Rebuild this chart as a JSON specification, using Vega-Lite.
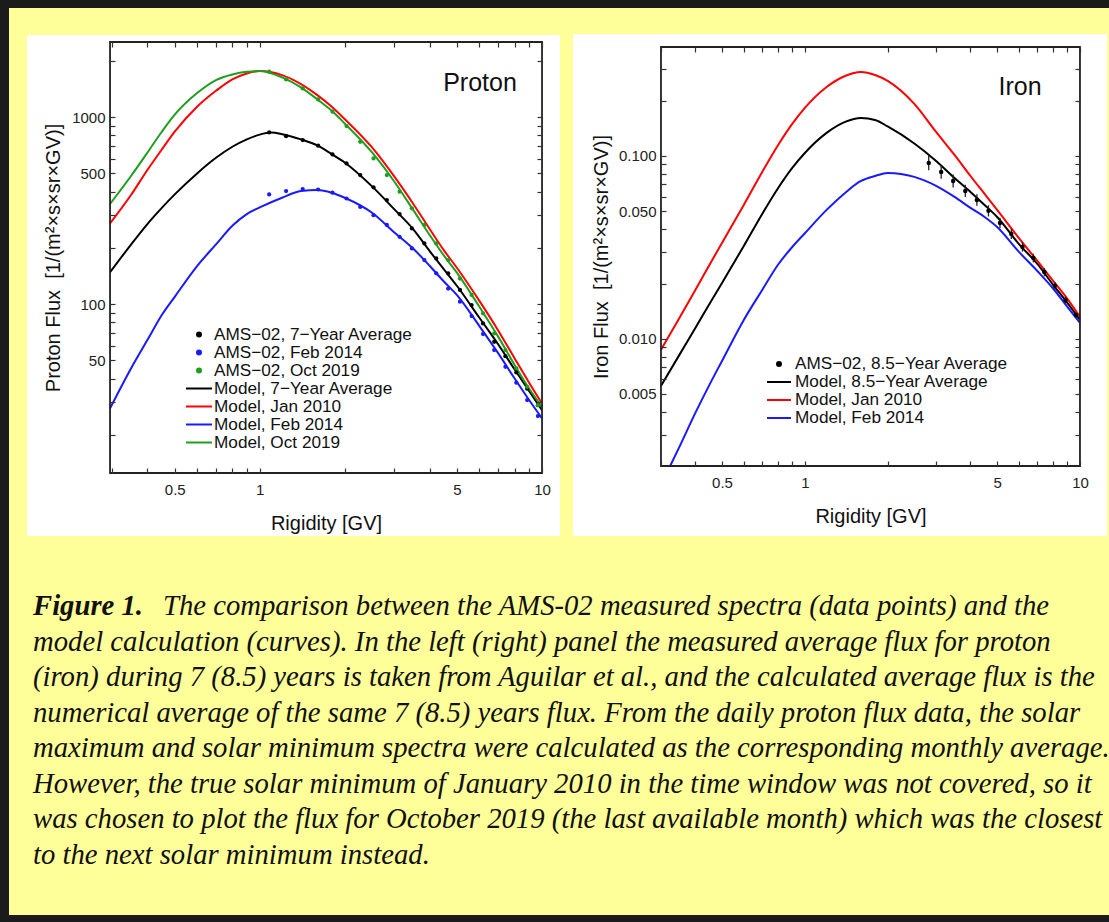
{
  "$schema": "https://vega.github.io/schema/vega-lite/v6.json",
  "background": "#1b1b1b",
  "padding": {"left": 9, "top": 8, "right": 0, "bottom": 7},
  "spacing": 0,
  "datasets": {
    "proton_model": [
      {"series": "Model, 7−Year Average", "R": 0.295, "F": 148},
      {"series": "Model, 7−Year Average", "R": 0.35, "F": 208},
      {"series": "Model, 7−Year Average", "R": 0.4, "F": 268},
      {"series": "Model, 7−Year Average", "R": 0.45, "F": 327},
      {"series": "Model, 7−Year Average", "R": 0.5, "F": 386},
      {"series": "Model, 7−Year Average", "R": 0.6, "F": 500},
      {"series": "Model, 7−Year Average", "R": 0.7, "F": 606},
      {"series": "Model, 7−Year Average", "R": 0.8, "F": 694},
      {"series": "Model, 7−Year Average", "R": 0.9, "F": 760},
      {"series": "Model, 7−Year Average", "R": 1.0, "F": 806},
      {"series": "Model, 7−Year Average", "R": 1.1, "F": 826},
      {"series": "Model, 7−Year Average", "R": 1.2, "F": 810},
      {"series": "Model, 7−Year Average", "R": 1.4, "F": 760},
      {"series": "Model, 7−Year Average", "R": 1.6, "F": 706},
      {"series": "Model, 7−Year Average", "R": 1.8, "F": 634},
      {"series": "Model, 7−Year Average", "R": 2.0, "F": 572},
      {"series": "Model, 7−Year Average", "R": 2.5, "F": 426},
      {"series": "Model, 7−Year Average", "R": 3, "F": 321},
      {"series": "Model, 7−Year Average", "R": 3.5, "F": 251},
      {"series": "Model, 7−Year Average", "R": 4, "F": 192},
      {"series": "Model, 7−Year Average", "R": 4.5, "F": 153},
      {"series": "Model, 7−Year Average", "R": 5, "F": 125},
      {"series": "Model, 7−Year Average", "R": 6, "F": 84.5},
      {"series": "Model, 7−Year Average", "R": 7, "F": 60.8},
      {"series": "Model, 7−Year Average", "R": 8, "F": 44.7},
      {"series": "Model, 7−Year Average", "R": 9, "F": 34.3},
      {"series": "Model, 7−Year Average", "R": 10, "F": 27.1},
      {"series": "Model, Jan 2010", "R": 0.295, "F": 270},
      {"series": "Model, Jan 2010", "R": 0.35, "F": 383},
      {"series": "Model, Jan 2010", "R": 0.4, "F": 521},
      {"series": "Model, Jan 2010", "R": 0.45, "F": 671},
      {"series": "Model, Jan 2010", "R": 0.5, "F": 835},
      {"series": "Model, Jan 2010", "R": 0.6, "F": 1136},
      {"series": "Model, Jan 2010", "R": 0.7, "F": 1382},
      {"series": "Model, Jan 2010", "R": 0.8, "F": 1591},
      {"series": "Model, Jan 2010", "R": 0.9, "F": 1712},
      {"series": "Model, Jan 2010", "R": 1.0, "F": 1762},
      {"series": "Model, Jan 2010", "R": 1.2, "F": 1677},
      {"series": "Model, Jan 2010", "R": 1.4, "F": 1502},
      {"series": "Model, Jan 2010", "R": 1.6, "F": 1311},
      {"series": "Model, Jan 2010", "R": 1.8, "F": 1136},
      {"series": "Model, Jan 2010", "R": 2.0, "F": 976},
      {"series": "Model, Jan 2010", "R": 2.5, "F": 688},
      {"series": "Model, Jan 2010", "R": 3, "F": 480},
      {"series": "Model, Jan 2010", "R": 3.5, "F": 343},
      {"series": "Model, Jan 2010", "R": 4, "F": 252},
      {"series": "Model, Jan 2010", "R": 4.5, "F": 193},
      {"series": "Model, Jan 2010", "R": 5, "F": 156},
      {"series": "Model, Jan 2010", "R": 6, "F": 104},
      {"series": "Model, Jan 2010", "R": 7, "F": 72.1},
      {"series": "Model, Jan 2010", "R": 8, "F": 51.2},
      {"series": "Model, Jan 2010", "R": 9, "F": 38.0},
      {"series": "Model, Jan 2010", "R": 10, "F": 29.4},
      {"series": "Model, Feb 2014", "R": 0.295, "F": 27.7},
      {"series": "Model, Feb 2014", "R": 0.35, "F": 45.3},
      {"series": "Model, Feb 2014", "R": 0.4, "F": 64.2},
      {"series": "Model, Feb 2014", "R": 0.45, "F": 87.4},
      {"series": "Model, Feb 2014", "R": 0.5, "F": 109.4},
      {"series": "Model, Feb 2014", "R": 0.6, "F": 159.7},
      {"series": "Model, Feb 2014", "R": 0.7, "F": 208.5},
      {"series": "Model, Feb 2014", "R": 0.8, "F": 262.4},
      {"series": "Model, Feb 2014", "R": 0.9, "F": 303},
      {"series": "Model, Feb 2014", "R": 1.0, "F": 328.7},
      {"series": "Model, Feb 2014", "R": 1.2, "F": 370.4},
      {"series": "Model, Feb 2014", "R": 1.4, "F": 402},
      {"series": "Model, Feb 2014", "R": 1.6, "F": 407},
      {"series": "Model, Feb 2014", "R": 1.8, "F": 394},
      {"series": "Model, Feb 2014", "R": 2.0, "F": 370.4},
      {"series": "Model, Feb 2014", "R": 2.5, "F": 308},
      {"series": "Model, Feb 2014", "R": 3, "F": 241.6},
      {"series": "Model, Feb 2014", "R": 3.5, "F": 197.7},
      {"series": "Model, Feb 2014", "R": 4, "F": 160.3},
      {"series": "Model, Feb 2014", "R": 4.5, "F": 131.6},
      {"series": "Model, Feb 2014", "R": 5, "F": 111.7},
      {"series": "Model, Feb 2014", "R": 6, "F": 76.3},
      {"series": "Model, Feb 2014", "R": 7, "F": 54.5},
      {"series": "Model, Feb 2014", "R": 8, "F": 40.0},
      {"series": "Model, Feb 2014", "R": 9, "F": 30.7},
      {"series": "Model, Feb 2014", "R": 10, "F": 24.5},
      {"series": "Model, Oct 2019", "R": 0.295, "F": 343},
      {"series": "Model, Oct 2019", "R": 0.35, "F": 484},
      {"series": "Model, Oct 2019", "R": 0.4, "F": 645},
      {"series": "Model, Oct 2019", "R": 0.45, "F": 835},
      {"series": "Model, Oct 2019", "R": 0.5, "F": 1030},
      {"series": "Model, Oct 2019", "R": 0.6, "F": 1344},
      {"series": "Model, Oct 2019", "R": 0.7, "F": 1578},
      {"series": "Model, Oct 2019", "R": 0.8, "F": 1691},
      {"series": "Model, Oct 2019", "R": 0.9, "F": 1747},
      {"series": "Model, Oct 2019", "R": 1.0, "F": 1762},
      {"series": "Model, Oct 2019", "R": 1.2, "F": 1630},
      {"series": "Model, Oct 2019", "R": 1.4, "F": 1442},
      {"series": "Model, Oct 2019", "R": 1.6, "F": 1244},
      {"series": "Model, Oct 2019", "R": 1.8, "F": 1081},
      {"series": "Model, Oct 2019", "R": 2.0, "F": 925},
      {"series": "Model, Oct 2019", "R": 2.5, "F": 647},
      {"series": "Model, Oct 2019", "R": 3, "F": 451},
      {"series": "Model, Oct 2019", "R": 3.5, "F": 318},
      {"series": "Model, Oct 2019", "R": 4, "F": 234},
      {"series": "Model, Oct 2019", "R": 4.5, "F": 181},
      {"series": "Model, Oct 2019", "R": 5, "F": 147},
      {"series": "Model, Oct 2019", "R": 6, "F": 96.8},
      {"series": "Model, Oct 2019", "R": 7, "F": 66.8},
      {"series": "Model, Oct 2019", "R": 8, "F": 47.2},
      {"series": "Model, Oct 2019", "R": 9, "F": 35.4},
      {"series": "Model, Oct 2019", "R": 10, "F": 28.2}
    ],
    "proton_ams": [
      {"series": "AMS−02, 7−Year Average", "R": 1.08, "F": 828},
      {"series": "AMS−02, 7−Year Average", "R": 1.24, "F": 791},
      {"series": "AMS−02, 7−Year Average", "R": 1.42, "F": 754},
      {"series": "AMS−02, 7−Year Average", "R": 1.61, "F": 703},
      {"series": "AMS−02, 7−Year Average", "R": 1.81, "F": 631},
      {"series": "AMS−02, 7−Year Average", "R": 2.03, "F": 565},
      {"series": "AMS−02, 7−Year Average", "R": 2.27, "F": 490},
      {"series": "AMS−02, 7−Year Average", "R": 2.53, "F": 421},
      {"series": "AMS−02, 7−Year Average", "R": 2.82, "F": 360},
      {"series": "AMS−02, 7−Year Average", "R": 3.13, "F": 303},
      {"series": "AMS−02, 7−Year Average", "R": 3.46, "F": 254},
      {"series": "AMS−02, 7−Year Average", "R": 3.83, "F": 211},
      {"series": "AMS−02, 7−Year Average", "R": 4.22, "F": 175.5},
      {"series": "AMS−02, 7−Year Average", "R": 4.65, "F": 146},
      {"series": "AMS−02, 7−Year Average", "R": 5.12, "F": 119},
      {"series": "AMS−02, 7−Year Average", "R": 5.63, "F": 98.8},
      {"series": "AMS−02, 7−Year Average", "R": 6.18, "F": 78.8},
      {"series": "AMS−02, 7−Year Average", "R": 6.77, "F": 62.9},
      {"series": "AMS−02, 7−Year Average", "R": 7.42, "F": 52.7},
      {"series": "AMS−02, 7−Year Average", "R": 8.11, "F": 43.1},
      {"series": "AMS−02, 7−Year Average", "R": 8.86, "F": 35.3},
      {"series": "AMS−02, 7−Year Average", "R": 9.67, "F": 28.8},
      {"series": "AMS−02, Feb 2014", "R": 1.08, "F": 386},
      {"series": "AMS−02, Feb 2014", "R": 1.24, "F": 402},
      {"series": "AMS−02, Feb 2014", "R": 1.42, "F": 412},
      {"series": "AMS−02, Feb 2014", "R": 1.61, "F": 410},
      {"series": "AMS−02, Feb 2014", "R": 1.81, "F": 394},
      {"series": "AMS−02, Feb 2014", "R": 2.03, "F": 367},
      {"series": "AMS−02, Feb 2014", "R": 2.27, "F": 331},
      {"series": "AMS−02, Feb 2014", "R": 2.53, "F": 299},
      {"series": "AMS−02, Feb 2014", "R": 2.82, "F": 265},
      {"series": "AMS−02, Feb 2014", "R": 3.13, "F": 229},
      {"series": "AMS−02, Feb 2014", "R": 3.46, "F": 198.5},
      {"series": "AMS−02, Feb 2014", "R": 3.83, "F": 172},
      {"series": "AMS−02, Feb 2014", "R": 4.22, "F": 146},
      {"series": "AMS−02, Feb 2014", "R": 4.65, "F": 121},
      {"series": "AMS−02, Feb 2014", "R": 5.12, "F": 103},
      {"series": "AMS−02, Feb 2014", "R": 5.63, "F": 86.3},
      {"series": "AMS−02, Feb 2014", "R": 6.18, "F": 69.1},
      {"series": "AMS−02, Feb 2014", "R": 6.77, "F": 56.8},
      {"series": "AMS−02, Feb 2014", "R": 7.42, "F": 46.2},
      {"series": "AMS−02, Feb 2014", "R": 8.11, "F": 38.0},
      {"series": "AMS−02, Feb 2014", "R": 8.86, "F": 30.7},
      {"series": "AMS−02, Feb 2014", "R": 9.67, "F": 25.2},
      {"series": "AMS−02, Oct 2019", "R": 1.08, "F": 1748},
      {"series": "AMS−02, Oct 2019", "R": 1.24, "F": 1590},
      {"series": "AMS−02, Oct 2019", "R": 1.42, "F": 1423},
      {"series": "AMS−02, Oct 2019", "R": 1.61, "F": 1243},
      {"series": "AMS−02, Oct 2019", "R": 1.81, "F": 1068},
      {"series": "AMS−02, Oct 2019", "R": 2.03, "F": 895},
      {"series": "AMS−02, Oct 2019", "R": 2.27, "F": 738},
      {"series": "AMS−02, Oct 2019", "R": 2.53, "F": 601},
      {"series": "AMS−02, Oct 2019", "R": 2.82, "F": 490},
      {"series": "AMS−02, Oct 2019", "R": 3.13, "F": 399},
      {"series": "AMS−02, Oct 2019", "R": 3.46, "F": 325},
      {"series": "AMS−02, Oct 2019", "R": 3.83, "F": 265},
      {"series": "AMS−02, Oct 2019", "R": 4.22, "F": 211},
      {"series": "AMS−02, Oct 2019", "R": 4.65, "F": 172},
      {"series": "AMS−02, Oct 2019", "R": 5.12, "F": 137},
      {"series": "AMS−02, Oct 2019", "R": 5.63, "F": 112},
      {"series": "AMS−02, Oct 2019", "R": 6.18, "F": 89.1},
      {"series": "AMS−02, Oct 2019", "R": 6.77, "F": 69.7},
      {"series": "AMS−02, Oct 2019", "R": 7.42, "F": 56.8},
      {"series": "AMS−02, Oct 2019", "R": 8.11, "F": 45.3},
      {"series": "AMS−02, Oct 2019", "R": 8.86, "F": 36.1},
      {"series": "AMS−02, Oct 2019", "R": 9.67, "F": 28.8}
    ],
    "iron_model": [
      {"series": "Model, 8.5−Year Average", "R": 0.3, "F": 0.00553},
      {"series": "Model, 8.5−Year Average", "R": 0.35, "F": 0.00818},
      {"series": "Model, 8.5−Year Average", "R": 0.4, "F": 0.01148},
      {"series": "Model, 8.5−Year Average", "R": 0.45, "F": 0.01553},
      {"series": "Model, 8.5−Year Average", "R": 0.5, "F": 0.02023},
      {"series": "Model, 8.5−Year Average", "R": 0.6, "F": 0.0322},
      {"series": "Model, 8.5−Year Average", "R": 0.7, "F": 0.0482},
      {"series": "Model, 8.5−Year Average", "R": 0.8, "F": 0.0668},
      {"series": "Model, 8.5−Year Average", "R": 0.9, "F": 0.0860},
      {"series": "Model, 8.5−Year Average", "R": 1.0, "F": 0.1038},
      {"series": "Model, 8.5−Year Average", "R": 1.2, "F": 0.1336},
      {"series": "Model, 8.5−Year Average", "R": 1.4, "F": 0.1534},
      {"series": "Model, 8.5−Year Average", "R": 1.6, "F": 0.1613},
      {"series": "Model, 8.5−Year Average", "R": 1.8, "F": 0.1573},
      {"series": "Model, 8.5−Year Average", "R": 2.0, "F": 0.1450},
      {"series": "Model, 8.5−Year Average", "R": 2.5, "F": 0.1170},
      {"series": "Model, 8.5−Year Average", "R": 3, "F": 0.0939},
      {"series": "Model, 8.5−Year Average", "R": 3.5, "F": 0.0758},
      {"series": "Model, 8.5−Year Average", "R": 4, "F": 0.0636},
      {"series": "Model, 8.5−Year Average", "R": 4.5, "F": 0.0540},
      {"series": "Model, 8.5−Year Average", "R": 5, "F": 0.0464},
      {"series": "Model, 8.5−Year Average", "R": 6, "F": 0.0330},
      {"series": "Model, 8.5−Year Average", "R": 7, "F": 0.0257},
      {"series": "Model, 8.5−Year Average", "R": 8, "F": 0.0197},
      {"series": "Model, 8.5−Year Average", "R": 9, "F": 0.01573},
      {"series": "Model, 8.5−Year Average", "R": 10, "F": 0.0127},
      {"series": "Model, Jan 2010", "R": 0.3, "F": 0.00871},
      {"series": "Model, Jan 2010", "R": 0.35, "F": 0.01302},
      {"series": "Model, Jan 2010", "R": 0.4, "F": 0.01852},
      {"series": "Model, Jan 2010", "R": 0.45, "F": 0.02538},
      {"series": "Model, Jan 2010", "R": 0.5, "F": 0.03347},
      {"series": "Model, Jan 2010", "R": 0.6, "F": 0.0540},
      {"series": "Model, Jan 2010", "R": 0.7, "F": 0.0818},
      {"series": "Model, Jan 2010", "R": 0.8, "F": 0.1148},
      {"series": "Model, Jan 2010", "R": 0.9, "F": 0.1496},
      {"series": "Model, Jan 2010", "R": 1.0, "F": 0.1830},
      {"series": "Model, Jan 2010", "R": 1.2, "F": 0.2382},
      {"series": "Model, Jan 2010", "R": 1.4, "F": 0.2736},
      {"series": "Model, Jan 2010", "R": 1.6, "F": 0.2877},
      {"series": "Model, Jan 2010", "R": 1.8, "F": 0.2770},
      {"series": "Model, Jan 2010", "R": 2.0, "F": 0.2570},
      {"series": "Model, Jan 2010", "R": 2.5, "F": 0.1924},
      {"series": "Model, Jan 2010", "R": 3, "F": 0.1352},
      {"series": "Model, Jan 2010", "R": 3.5, "F": 0.1013},
      {"series": "Model, Jan 2010", "R": 4, "F": 0.0777},
      {"series": "Model, Jan 2010", "R": 4.5, "F": 0.0620},
      {"series": "Model, Jan 2010", "R": 5, "F": 0.0507},
      {"series": "Model, Jan 2010", "R": 6, "F": 0.0356},
      {"series": "Model, Jan 2010", "R": 7, "F": 0.0267},
      {"series": "Model, Jan 2010", "R": 8, "F": 0.0207},
      {"series": "Model, Jan 2010", "R": 9, "F": 0.01654},
      {"series": "Model, Jan 2010", "R": 10, "F": 0.01319},
      {"series": "Model, Feb 2014", "R": 0.324, "F": 0.00202},
      {"series": "Model, Feb 2014", "R": 0.35, "F": 0.00257},
      {"series": "Model, Feb 2014", "R": 0.4, "F": 0.00394},
      {"series": "Model, Feb 2014", "R": 0.45, "F": 0.00561},
      {"series": "Model, Feb 2014", "R": 0.5, "F": 0.00758},
      {"series": "Model, Feb 2014", "R": 0.6, "F": 0.0127},
      {"series": "Model, Feb 2014", "R": 0.7, "F": 0.01852},
      {"series": "Model, Feb 2014", "R": 0.8, "F": 0.0255},
      {"series": "Model, Feb 2014", "R": 0.9, "F": 0.0318},
      {"series": "Model, Feb 2014", "R": 1.0, "F": 0.0378},
      {"series": "Model, Feb 2014", "R": 1.2, "F": 0.0507},
      {"series": "Model, Feb 2014", "R": 1.4, "F": 0.0628},
      {"series": "Model, Feb 2014", "R": 1.6, "F": 0.0730},
      {"series": "Model, Feb 2014", "R": 1.8, "F": 0.0777},
      {"series": "Model, Feb 2014", "R": 2.0, "F": 0.0807},
      {"series": "Model, Feb 2014", "R": 2.5, "F": 0.0768},
      {"series": "Model, Feb 2014", "R": 3, "F": 0.0686},
      {"series": "Model, Feb 2014", "R": 3.5, "F": 0.0597},
      {"series": "Model, Feb 2014", "R": 4, "F": 0.0520},
      {"series": "Model, Feb 2014", "R": 4.5, "F": 0.0464},
      {"series": "Model, Feb 2014", "R": 5, "F": 0.0409},
      {"series": "Model, Feb 2014", "R": 6, "F": 0.0299},
      {"series": "Model, Feb 2014", "R": 7, "F": 0.0235},
      {"series": "Model, Feb 2014", "R": 8, "F": 0.0188},
      {"series": "Model, Feb 2014", "R": 9, "F": 0.01496},
      {"series": "Model, Feb 2014", "R": 10, "F": 0.01223}
    ],
    "iron_ams": [
      {"series": "AMS−02, 8.5−Year Average", "R": 2.82, "F": 0.0916, "lo": 0.0835, "hi": 0.1000},
      {"series": "AMS−02, 8.5−Year Average", "R": 3.13, "F": 0.0818, "lo": 0.0750, "hi": 0.0890},
      {"series": "AMS−02, 8.5−Year Average", "R": 3.46, "F": 0.0730, "lo": 0.0672, "hi": 0.0792},
      {"series": "AMS−02, 8.5−Year Average", "R": 3.83, "F": 0.0644, "lo": 0.0596, "hi": 0.0695},
      {"series": "AMS−02, 8.5−Year Average", "R": 4.22, "F": 0.0575, "lo": 0.0534, "hi": 0.0618},
      {"series": "AMS−02, 8.5−Year Average", "R": 4.65, "F": 0.0501, "lo": 0.0467, "hi": 0.0537},
      {"series": "AMS−02, 8.5−Year Average", "R": 5.12, "F": 0.0430, "lo": 0.0402, "hi": 0.0459},
      {"series": "AMS−02, 8.5−Year Average", "R": 5.63, "F": 0.0375, "lo": 0.0352, "hi": 0.0399},
      {"series": "AMS−02, 8.5−Year Average", "R": 6.18, "F": 0.0318, "lo": 0.0300, "hi": 0.0337},
      {"series": "AMS−02, 8.5−Year Average", "R": 6.77, "F": 0.0277, "lo": 0.0262, "hi": 0.0292},
      {"series": "AMS−02, 8.5−Year Average", "R": 7.42, "F": 0.0232, "lo": 0.0220, "hi": 0.0244},
      {"series": "AMS−02, 8.5−Year Average", "R": 8.11, "F": 0.0195, "lo": 0.0186, "hi": 0.0204},
      {"series": "AMS−02, 8.5−Year Average", "R": 8.86, "F": 0.0163, "lo": 0.0156, "hi": 0.0170},
      {"series": "AMS−02, 8.5−Year Average", "R": 9.67, "F": 0.0135, "lo": 0.0130, "hi": 0.0140}
    ],
    "caption": [
      {"line": 1, "kind": "bold", "text": "Figure 1."},
      {"line": 1, "kind": "first", "text": "The comparison between the AMS-02 measured spectra (data points) and the"},
      {"line": 2, "kind": "body", "text": "model calculation (curves). In the left (right) panel the measured average flux for proton"},
      {"line": 3, "kind": "body", "text": "(iron) during 7 (8.5) years is taken from Aguilar et al., and the calculated average flux is the"},
      {"line": 4, "kind": "body", "text": "numerical average of the same 7 (8.5) years flux. From the daily proton flux data, the solar"},
      {"line": 5, "kind": "body", "text": "maximum and solar minimum spectra were calculated as the corresponding monthly average."},
      {"line": 6, "kind": "body", "text": "However, the true solar minimum of January 2010 in the time window was not covered, so it"},
      {"line": 7, "kind": "body", "text": "was chosen to plot the flux for October 2019 (the last available month) which was the closest"},
      {"line": 8, "kind": "body", "text": "to the next solar minimum instead."}
    ]
  },
  "vconcat": [
    {
      "spacing": 0,
      "resolve": {
        "scale": {"x": "independent", "y": "independent", "color": "independent"},
        "legend": {"color": "independent"}
      },
      "hconcat": [
        {
          "width": 557,
          "height": 532,
          "view": {"fill": "#ffff99", "stroke": null},
          "resolve": {"axis": {"x": "independent", "y": "independent"}},
          "layer": [
            {
              "data": {"values": [{}]},
              "mark": {"type": "rect", "fill": "#ffffff", "strokeWidth": 0},
              "encoding": {
                "x": {"datum": 0.1499, "type": "quantitative",
                  "scale": {"type": "log", "domain": [0.1294, 12.16], "nice": false},
                  "axis": {"orient": "bottom", "offset": -67, "zindex": 2, "values": [0.3,0.4,0.5,0.6,0.7,0.8,0.9,1,2,3,4,5,6,7,8,9,10],
                    "format": "~g", "labelExpr": "datum.value == 0.5 || datum.value == 1 || datum.value == 5 || datum.value == 10 ? datum.label : ''",
                    "labelFontSize": 15, "labelPadding": 14, "title": "Rigidity [GV]", "titleX": 317, "titleY": 56, "titleBaseline": "alphabetic"}},
                "x2": {"datum": 11.58},
                "y": {"datum": 5.754, "type": "quantitative",
                  "scale": {"type": "log", "domain": [5.478, 3831], "nice": false},
                  "axis": {"orient": "left", "offset": -101, "zindex": 2, "values": [20,30,40,50,60,70,80,90,100,200,300,400,500,600,700,800,900,1000,2000],
                    "format": "d", "labelExpr": "datum.value == 50 || datum.value == 100 || datum.value == 500 || datum.value == 1000 ? datum.label : ''",
                    "labelFontSize": 15, "labelPadding": 10, "title": "Proton Flux\u00a0 [1/(m²×s×sr×GV)]", "titleX": -51, "titleY": 249.5, "titleBaseline": "alphabetic", "titleAngle": -90}},
                "y2": {"datum": 2747}
              }
            },
            {
              "data": {"name": "proton_model"},
              "mark": {"type": "line", "strokeWidth": 2, "interpolate": "monotone"},
              "encoding": {
                "x": {"field": "R", "type": "quantitative", "axis": null},
                "y": {"field": "F", "type": "quantitative", "axis": null},
                "color": {"field": "series", "type": "nominal",
                  "scale": {"domain": ["AMS−02, 7−Year Average", "AMS−02, Feb 2014", "AMS−02, Oct 2019", "Model, 7−Year Average", "Model, Jan 2010", "Model, Feb 2014", "Model, Oct 2019"],
                    "range": ["#000000", "#1a1aff", "#1e9e1e", "#000000", "#ff0000", "#1a1aff", "#1e9e1e"]},
                  "legend": {"orient": "none", "legendX": 181.4, "legendY": 317.9, "title": null, "labelOffset": 6.4,
                    "encode": {"symbols": {"update": {
                      "shape": {"signal": "test(/^AMS/, datum.value) ? 'circle' : 'M-6.5,0H6.5'"},
                      "fill": {"signal": "test(/^AMS/, datum.value) ? (test(/Feb/, datum.value) ? '#1a1aff' : test(/Oct/, datum.value) ? '#1e9e1e' : '#000000') : 'transparent'"},
                      "stroke": {"signal": "test(/^AMS/, datum.value) ? 'transparent' : (test(/Feb/, datum.value) ? '#1a1aff' : test(/Oct/, datum.value) ? '#1e9e1e' : test(/Jan/, datum.value) ? '#ff0000' : '#000000')"},
                      "strokeWidth": {"value": 2},
                      "opacity": {"value": 1}
                    }}}}
                }
              }
            },
            {
              "data": {"name": "proton_ams"},
              "mark": {"type": "point", "filled": true, "shape": "circle", "size": 18, "opacity": 1},
              "encoding": {
                "x": {"field": "R", "type": "quantitative", "axis": null},
                "y": {"field": "F", "type": "quantitative", "axis": null},
                "color": {"field": "series", "type": "nominal",
                  "legend": {"orient": "none", "legendX": 181.4, "legendY": 317.9, "title": null, "labelOffset": 6.4}}
              }
            },
            {
              "data": {"values": [{}]},
              "mark": {"type": "text", "text": "Proton", "font": "Liberation Sans", "fontSize": 25, "align": "center", "baseline": "middle", "color": "#111111"},
              "encoding": {
                "x": {"datum": 6.03, "type": "quantitative", "axis": null},
                "y": {"datum": 1520, "type": "quantitative", "axis": null}
              }
            },
            {
              "data": {"values": [{}]},
              "mark": {"type": "rect", "fill": "transparent", "stroke": "#222222", "strokeWidth": 1.8},
              "encoding": {
                "x": {"datum": 0.295, "type": "quantitative",
                  "axis": {"orient": "top", "offset": -34, "zindex": 2, "values": [0.3,0.4,0.5,0.6,0.7,0.8,0.9,1,2,3,4,5,6,7,8,9,10], "labels": false, "title": null}},
                "x2": {"datum": 10},
                "y": {"datum": 12.5, "type": "quantitative",
                  "axis": {"orient": "right", "offset": -24, "zindex": 2, "values": [20,30,40,50,60,70,80,90,100,200,300,400,500,600,700,800,900,1000,2000], "labels": false, "title": null}},
                "y2": {"datum": 2520}
              }
            }
          ]
        },
        {
          "width": 543,
          "height": 532,
          "view": {"fill": "#ffff99", "stroke": null},
          "resolve": {"axis": {"x": "independent", "y": "independent"}},
          "layer": [
            {
              "data": {"values": [{}]},
              "mark": {"type": "rect", "fill": "#ffffff", "strokeWidth": 0},
              "encoding": {
                "x": {"datum": 0.1436, "type": "quantitative",
                  "scale": {"type": "log", "domain": [0.1355, 12.75], "nice": false},
                  "axis": {"orient": "bottom", "offset": -74, "zindex": 2, "values": [0.3,0.4,0.5,0.6,0.7,0.8,0.9,1,2,3,4,5,6,7,8,9,10],
                    "format": "~g", "labelExpr": "datum.value == 0.5 || datum.value == 1 || datum.value == 5 || datum.value == 10 ? datum.label : ''",
                    "labelFontSize": 15, "labelPadding": 14, "title": "Rigidity [GV]", "titleX": 304.5, "titleY": 56, "titleBaseline": "alphabetic"}},
                "x2": {"datum": 12.53},
                "y": {"datum": 0.000837, "type": "quantitative",
                  "scale": {"type": "log", "domain": [0.000796, 0.6435], "nice": false},
                  "axis": {"orient": "left", "offset": -95, "zindex": 2, "values": [0.003,0.004,0.005,0.006,0.007,0.008,0.009,0.01,0.02,0.03,0.04,0.05,0.06,0.07,0.08,0.09,0.1,0.2,0.3],
                    "format": ".3f", "labelExpr": "datum.value == 0.005 || datum.value == 0.01 || datum.value == 0.05 || datum.value == 0.1 ? datum.label : ''",
                    "labelFontSize": 15, "labelPadding": 10, "title": "Iron Flux\u00a0 [1/(m²×s×sr×GV)]", "titleX": -54, "titleY": 248.5, "titleBaseline": "alphabetic", "titleAngle": -90}},
                "y2": {"datum": 0.4638}
              }
            },
            {
              "data": {"name": "iron_model"},
              "mark": {"type": "line", "strokeWidth": 2, "interpolate": "monotone"},
              "encoding": {
                "x": {"field": "R", "type": "quantitative", "axis": null},
                "y": {"field": "F", "type": "quantitative", "axis": null},
                "color": {"field": "series", "type": "nominal",
                  "scale": {"domain": ["AMS−02, 8.5−Year Average", "Model, 8.5−Year Average", "Model, Jan 2010", "Model, Feb 2014"],
                    "range": ["#000000", "#000000", "#ff0000", "#1a1aff"]},
                  "legend": {"orient": "none", "legendX": 204.4, "legendY": 347.4, "title": null, "labelOffset": 7.4,
                    "encode": {"symbols": {"update": {
                      "shape": {"signal": "test(/^AMS/, datum.value) ? 'circle' : 'M-6,0H6'"},
                      "fill": {"signal": "test(/^AMS/, datum.value) ? '#000000' : 'transparent'"},
                      "stroke": {"signal": "test(/^AMS/, datum.value) ? 'transparent' : (test(/Feb/, datum.value) ? '#1a1aff' : test(/Jan/, datum.value) ? '#ff0000' : '#000000')"},
                      "strokeWidth": {"value": 2},
                      "opacity": {"value": 1}
                    }}}}
                }
              }
            },
            {
              "data": {"name": "iron_ams"},
              "mark": {"type": "rule", "strokeWidth": 1.3, "color": "#222222"},
              "encoding": {
                "x": {"field": "R", "type": "quantitative", "axis": null},
                "y": {"field": "lo", "type": "quantitative", "axis": null},
                "y2": {"field": "hi"}
              }
            },
            {
              "data": {"name": "iron_ams"},
              "mark": {"type": "point", "filled": true, "shape": "circle", "size": 20, "opacity": 1},
              "encoding": {
                "x": {"field": "R", "type": "quantitative", "axis": null},
                "y": {"field": "F", "type": "quantitative", "axis": null},
                "color": {"field": "series", "type": "nominal",
                  "legend": {"orient": "none", "legendX": 204.4, "legendY": 347.4, "title": null, "labelOffset": 7.4}}
              }
            },
            {
              "data": {"values": [{}]},
              "mark": {"type": "text", "text": "Iron", "font": "Liberation Sans", "fontSize": 25, "align": "center", "baseline": "middle", "color": "#111111"},
              "encoding": {
                "x": {"datum": 6.06, "type": "quantitative", "axis": null},
                "y": {"datum": 0.238, "type": "quantitative", "axis": null}
              }
            },
            {
              "data": {"values": [{}]},
              "mark": {"type": "rect", "fill": "transparent", "stroke": "#222222", "strokeWidth": 1.8},
              "encoding": {
                "x": {"datum": 0.3, "type": "quantitative",
                  "axis": {"orient": "top", "offset": -39, "zindex": 2, "values": [0.3,0.4,0.5,0.6,0.7,0.8,0.9,1,2,3,4,5,6,7,8,9,10], "labels": false, "title": null}},
                "x2": {"datum": 10},
                "y": {"datum": 0.00202, "type": "quantitative",
                  "axis": {"orient": "right", "offset": -29, "zindex": 2, "values": [0.003,0.004,0.005,0.006,0.007,0.008,0.009,0.01,0.02,0.03,0.04,0.05,0.06,0.07,0.08,0.09,0.1,0.2,0.3], "labels": false, "title": null}},
                "y2": {"datum": 0.394}
              }
            }
          ]
        }
      ]
    },
    {
      "width": 1100,
      "height": 375,
      "view": {"fill": "#ffff99", "stroke": null},
      "data": {"name": "caption"},
      "encoding": {
        "y": {"field": "line", "type": "quantitative", "scale": {"domain": [-1.113, 9.45], "reverse": true, "nice": false, "zero": false}, "axis": null},
        "x": {"datum": 0, "type": "quantitative", "scale": {"domain": [0, 1]}, "axis": null},
        "text": {"field": "text"}
      },
      "layer": [
        {
          "transform": [{"filter": "datum.kind == 'bold'"}],
          "mark": {"type": "text", "align": "left", "baseline": "alphabetic", "dx": 24, "font": "Liberation Serif", "fontStyle": "italic", "fontWeight": "bold", "fontSize": 28.7, "color": "#111111"}
        },
        {
          "transform": [{"filter": "datum.kind == 'first'"}],
          "mark": {"type": "text", "align": "left", "baseline": "alphabetic", "dx": 154, "font": "Liberation Serif", "fontStyle": "italic", "fontSize": 28.7, "color": "#111111"}
        },
        {
          "transform": [{"filter": "datum.kind == 'body'"}],
          "mark": {"type": "text", "align": "left", "baseline": "alphabetic", "dx": 24, "font": "Liberation Serif", "fontStyle": "italic", "fontSize": 28.7, "color": "#111111"}
        }
      ]
    }
  ],
  "config": {
    "view": {"stroke": null},
    "axis": {
      "grid": false, "domain": false,
      "labelFont": "Liberation Sans", "titleFont": "Liberation Sans",
      "labelColor": "#222222", "titleColor": "#111111",
      "labelFontSize": 15, "titleFontSize": 20, "titleFontWeight": "normal",
      "tickColor": "#333333", "tickWidth": 1.2, "tickSize": -5, "labelOverlap": false, "labelFlush": false
    },
    "legend": {
      "labelFont": "Liberation Sans", "labelFontSize": 17.2, "labelColor": "#111111", "labelLimit": 0,
      "symbolSize": 16, "symbolStrokeWidth": 0, "padding": 0, "symbolOffset": 0, "rowPadding": 0
    }
  }
}
